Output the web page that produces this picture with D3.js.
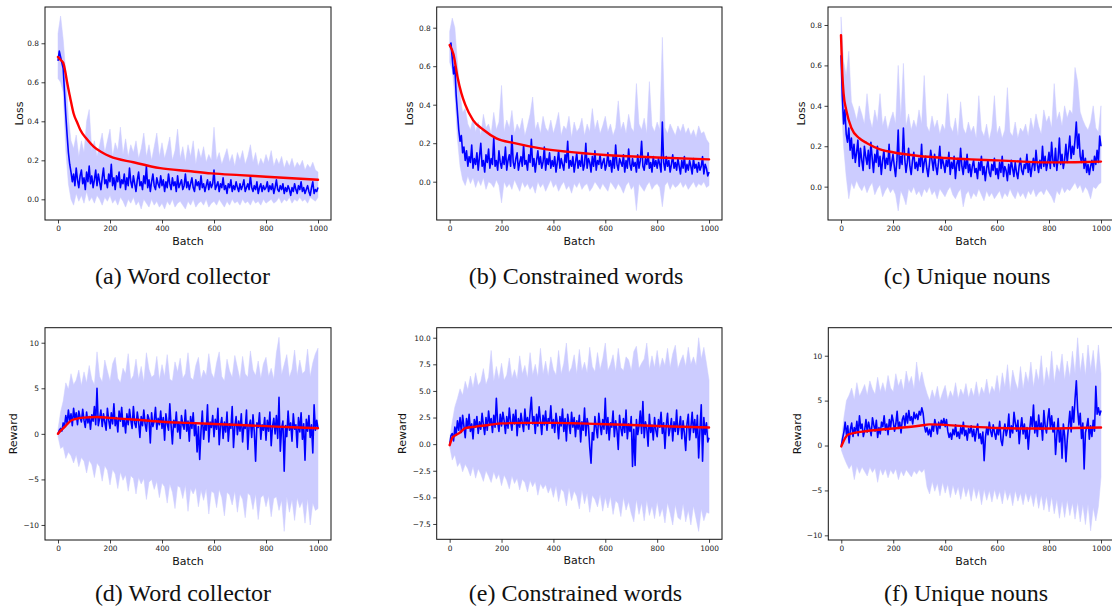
<!DOCTYPE html>
<html><head><meta charset="utf-8">
<script src="https://cdn.jsdelivr.net/npm/d3@7"></script>
<style>body{margin:0;background:#fff}svg{display:block}</style>
</head><body>
<svg id="chart" width="1112" height="612"></svg>
<script>
// ---------- tick labels / categories ----------
const batchTicks = [0, 200, 400, 600, 800, 1000];
const lossTicks = [0, 0.2, 0.4, 0.6, 0.8];
const rewardTicksInt = [-10, -5, 0, 5, 10];
const rewardTicksHalf = [-7.5, -5, -2.5, 0, 2.5, 5, 7.5, 10];
const captions = ["(a) Word collector", "(b) Constrained words", "(c) Unique nouns",
                  "(d) Word collector", "(e) Constrained words", "(f) Unique nouns"];
const yLabels = ["Loss", "Loss", "Loss", "Reward", "Reward", "Reward"];

// ---------- (a) loss, word collector ----------
const lossBlueA = [
0.71,0.76,0.73,0.70,0.67,0.55,0.43,0.33,0.24,0.18,0.14,0.09,0.13,0.07,0.16,0.10,0.06,0.12,0.15,0.08,
0.11,0.05,0.14,0.09,0.17,0.08,0.12,0.06,0.10,0.15,0.07,0.13,0.09,0.05,0.11,0.16,0.08,0.10,0.06,0.13,
0.09,0.18,0.07,0.11,0.05,0.12,0.09,0.14,0.06,0.10,0.08,0.13,0.05,0.11,0.07,0.16,0.09,0.06,0.12,0.08,
0.04,0.10,0.14,0.07,0.09,0.05,0.12,0.08,0.17,0.06,0.10,0.04,0.09,0.13,0.07,0.05,0.11,0.08,0.06,0.12,
0.07,0.10,0.04,0.09,0.06,0.13,0.08,0.05,0.11,0.07,0.09,0.04,0.12,0.06,0.08,0.10,0.05,0.07,0.13,0.06,
0.09,0.05,0.08,0.11,0.06,0.04,0.10,0.07,0.09,0.05,0.12,0.06,0.08,0.04,0.07,0.10,0.05,0.09,0.06,0.08,
0.15,0.05,0.07,0.09,0.04,0.08,0.06,0.11,0.05,0.07,0.03,0.08,0.06,0.10,0.04,0.07,0.05,0.09,0.06,0.04,
0.08,0.05,0.07,0.10,0.04,0.06,0.08,0.05,0.12,0.06,0.04,0.07,0.05,0.09,0.03,0.06,0.08,0.04,0.07,0.05,
0.06,0.09,0.04,0.07,0.05,0.08,0.03,0.06,0.10,0.05,0.04,0.07,0.05,0.08,0.03,0.06,0.04,0.07,0.05,0.02,
0.06,0.04,0.08,0.05,0.03,0.07,0.05,0.09,0.04,0.06,0.03,0.05,0.07,0.04,0.02,0.06,0.09,0.03,0.05,0.04,
0.06];
const lossUpperA = [
0.85,0.94,0.82,0.65,0.42,0.30,0.26,0.33,0.22,0.30,
0.24,0.40,0.46,0.25,0.30,0.22,0.28,0.34,0.24,0.30,
0.36,0.22,0.29,0.25,0.37,0.23,0.31,0.22,0.28,0.24,
0.30,0.21,0.26,0.34,0.22,0.28,0.20,0.27,0.34,0.22,
0.29,0.21,0.26,0.32,0.20,0.25,0.36,0.21,0.27,0.19,
0.28,0.22,0.30,0.18,0.26,0.21,0.27,0.19,0.23,0.20,
0.37,0.20,0.24,0.18,0.22,0.26,0.19,0.23,0.17,0.24,
0.20,0.25,0.18,0.22,0.28,0.19,0.24,0.17,0.21,0.18,
0.23,0.19,0.25,0.17,0.21,0.18,0.22,0.16,0.20,0.17,
0.21,0.16,0.19,0.17,0.20,0.15,0.18,0.16,0.19,0.15,
0.14];
const lossLowerA = [
0.62,0.60,0.55,0.25,0.08,0.00,-0.03,0.03,-0.01,0.02,
-0.02,0.04,-0.01,0.01,-0.02,0.02,0.00,-0.03,0.01,-0.01,
0.02,-0.02,0.00,-0.03,0.01,-0.01,-0.04,0.00,-0.02,0.01,
-0.03,-0.01,-0.05,0.00,-0.02,-0.04,0.00,-0.03,-0.01,-0.04,
-0.02,-0.05,-0.01,-0.03,0.00,-0.04,-0.02,-0.01,-0.03,-0.05,
-0.01,-0.03,0.00,-0.04,-0.02,-0.01,-0.03,0.00,-0.04,-0.02,
-0.01,-0.03,0.00,-0.02,-0.04,-0.01,-0.03,0.00,-0.02,-0.01,
-0.03,0.00,-0.02,-0.01,-0.03,0.00,-0.02,-0.01,-0.03,0.00,
-0.02,-0.01,0.00,-0.02,-0.01,0.01,-0.02,0.00,-0.01,0.01,
-0.02,0.00,-0.01,0.01,-0.01,0.00,-0.02,0.01,0.00,-0.01,
0.01];
const lossRedXA = [0,10,20,30,35,47,60,75,86,110,137,170,200,290,393,500,590,700,800,900,1000];
const lossRedYA = [0.73,0.715,0.70,0.64,0.60,0.52,0.44,0.39,0.355,0.31,0.27,0.24,0.22,0.19,0.16,0.145,0.133,0.124,0.116,0.108,0.10];

// ---------- (b) loss, constrained words ----------
const lossBlueB = [
0.70,0.72,0.64,0.56,0.60,0.45,0.36,0.27,0.21,0.24,0.15,0.18,0.11,0.16,0.08,0.13,0.10,0.19,0.07,0.12,
0.09,0.15,0.06,0.13,0.20,0.08,0.11,0.05,0.14,0.10,0.17,0.07,0.12,0.09,0.23,0.08,0.11,0.06,0.16,0.10,
0.07,0.13,0.09,0.18,0.06,0.11,0.14,0.08,0.24,0.10,0.07,0.12,0.15,0.06,0.10,0.13,0.08,0.19,0.09,0.11,
0.06,0.14,0.10,0.22,0.08,0.12,0.05,0.11,0.16,0.09,0.13,0.07,0.10,0.18,0.06,0.12,0.09,0.15,0.07,0.11,
0.08,0.13,0.05,0.10,0.16,0.07,0.12,0.09,0.06,0.14,0.10,0.21,0.07,0.11,0.08,0.13,0.05,0.10,0.15,0.07,
0.11,0.08,0.14,0.06,0.09,0.20,0.07,0.12,0.10,0.05,0.13,0.08,0.16,0.06,0.11,0.09,0.14,0.07,0.10,0.12,
0.06,0.09,0.15,0.08,0.11,0.05,0.13,0.07,0.19,0.09,0.06,0.12,0.10,0.08,0.14,0.05,0.11,0.07,0.17,0.09,
0.06,0.12,0.08,0.10,0.05,0.14,0.07,0.11,0.21,0.08,0.06,0.12,0.09,0.15,0.07,0.10,0.05,0.13,0.08,0.11,
0.07,0.12,0.09,0.05,0.31,0.10,0.06,0.13,0.08,0.11,0.05,0.09,0.14,0.07,0.10,0.06,0.12,0.08,0.04,0.11,
0.07,0.13,0.05,0.09,0.06,0.11,0.08,0.04,0.12,0.07,0.09,0.05,0.10,0.06,0.08,0.13,0.04,0.09,0.07,0.03,
0.05];
const lossUpperB = [
0.78,0.85,0.80,0.62,0.46,0.36,0.38,0.30,0.27,0.33,
0.26,0.31,0.24,0.35,0.28,0.30,0.25,0.36,0.27,0.31,
0.50,0.26,0.32,0.28,0.37,0.25,0.30,0.27,0.33,0.24,
0.29,0.35,0.44,0.27,0.31,0.25,0.34,0.28,0.26,0.32,
0.25,0.30,0.36,0.24,0.29,0.27,0.34,0.23,0.31,0.26,
0.28,0.33,0.24,0.30,0.26,0.38,0.27,0.32,0.25,0.29,
0.34,0.26,0.30,0.24,0.28,0.42,0.27,0.31,0.25,0.35,
0.28,0.26,0.51,0.30,0.27,0.33,0.25,0.52,0.29,0.26,
0.31,0.27,0.75,0.28,0.25,0.30,0.27,0.24,0.29,0.26,
0.30,0.25,0.28,0.24,0.27,0.23,0.29,0.25,0.26,0.22,
0.20];
const lossLowerB = [
0.62,0.58,0.45,0.22,0.08,0.01,-0.02,0.03,-0.01,0.02,
-0.03,0.01,-0.02,0.02,-0.04,0.00,-0.01,-0.03,0.01,-0.02,
-0.11,0.00,-0.03,-0.01,-0.04,0.01,-0.02,-0.05,0.00,-0.03,
-0.01,-0.04,-0.02,-0.06,0.00,-0.03,-0.01,-0.05,-0.02,0.01,
-0.03,-0.01,-0.05,-0.02,0.00,-0.04,-0.02,-0.06,-0.01,-0.03,
0.00,-0.04,-0.02,-0.01,-0.05,-0.03,0.00,-0.02,-0.04,-0.01,
-0.03,-0.05,0.00,-0.02,-0.04,-0.01,-0.03,-0.06,-0.02,0.00,
-0.04,-0.02,-0.15,-0.01,-0.03,-0.05,-0.02,0.00,-0.04,-0.02,
-0.01,-0.03,-0.13,-0.02,0.00,-0.04,-0.01,-0.03,-0.02,0.00,
-0.03,-0.01,-0.04,-0.02,0.00,-0.03,-0.01,-0.02,0.00,-0.03,
-0.02];
const lossRedXB = [0,15,30,45,60,90,130,180,250,350,450,600,800,1000];
const lossRedYB = [0.71,0.66,0.545,0.46,0.40,0.32,0.27,0.225,0.20,0.173,0.156,0.139,0.126,0.116];

// ---------- (c) loss, unique nouns ----------
const lossBlueC = [
0.65,0.45,0.31,0.38,0.26,0.22,0.29,0.18,0.24,0.14,0.21,0.12,0.17,0.23,0.10,0.19,0.13,0.08,0.20,0.15,
0.11,0.18,0.09,0.22,0.14,0.07,0.16,0.12,0.20,0.10,0.15,0.06,0.13,0.18,0.09,0.14,0.11,0.21,0.08,0.12,
0.16,0.10,0.05,0.13,0.28,0.09,0.15,0.11,0.29,0.14,0.07,0.12,0.19,0.10,0.06,0.13,0.17,0.09,0.12,0.08,
0.14,0.10,0.21,0.07,0.12,0.15,0.09,0.05,0.11,0.18,0.13,0.08,0.16,0.10,0.06,0.12,0.20,0.09,0.14,0.11,
0.07,0.13,0.10,0.17,0.06,0.12,0.09,0.15,0.04,0.11,0.14,0.08,0.19,0.10,0.06,0.13,0.09,0.16,0.07,0.11,
0.05,0.10,0.13,0.07,0.09,0.04,0.12,0.08,0.15,0.06,0.10,0.03,0.09,0.13,0.07,0.05,0.11,0.08,0.14,0.06,
0.09,0.04,0.12,0.07,0.15,0.05,0.10,0.08,0.03,0.11,0.06,0.13,0.09,0.05,0.12,0.07,0.04,0.10,0.14,0.08,
0.06,0.11,0.09,0.16,0.07,0.12,0.05,0.10,0.14,0.08,0.18,0.11,0.07,0.13,0.09,0.20,0.10,0.15,0.08,0.12,
0.17,0.09,0.22,0.13,0.10,0.19,0.08,0.14,0.24,0.11,0.16,0.09,0.13,0.21,0.12,0.18,0.25,0.14,0.20,0.16,
0.23,0.32,0.19,0.26,0.15,0.12,0.18,0.09,0.14,0.07,0.11,0.06,0.10,0.13,0.08,0.15,0.11,0.18,0.12,0.25,
0.20];
const lossUpperC = [
0.84,0.62,0.55,0.67,0.42,0.38,0.33,0.40,0.36,0.31,
0.46,0.34,0.29,0.38,0.32,0.46,0.30,0.35,0.28,0.33,
0.37,0.31,0.60,0.34,0.61,0.30,0.36,0.28,0.33,0.29,
0.38,0.31,0.55,0.30,0.27,0.35,0.29,0.33,0.26,0.31,
0.28,0.46,0.30,0.27,0.34,0.25,0.42,0.29,0.26,0.32,
0.27,0.30,0.24,0.45,0.28,0.25,0.31,0.23,0.29,0.45,
0.26,0.30,0.24,0.28,0.49,0.27,0.25,0.32,0.24,0.29,
0.27,0.31,0.25,0.34,0.28,0.36,0.30,0.26,0.38,0.32,
0.35,0.29,0.51,0.33,0.37,0.30,0.40,0.34,0.38,0.36,
0.59,0.52,0.37,0.33,0.30,0.28,0.32,0.40,0.29,0.27,
0.40];
const lossLowerC = [
0.45,0.20,0.05,-0.06,0.02,-0.01,0.03,0.00,-0.02,0.01,
-0.03,0.00,0.02,-0.04,-0.01,0.01,-0.05,-0.02,0.00,-0.03,
-0.01,-0.04,-0.12,-0.02,-0.05,-0.09,-0.01,-0.03,0.00,-0.04,
-0.02,-0.05,-0.01,-0.03,0.00,-0.04,-0.02,-0.06,-0.01,-0.03,
-0.05,-0.02,0.00,-0.04,-0.06,-0.03,-0.01,-0.10,-0.04,-0.02,
-0.06,-0.03,-0.05,-0.01,-0.04,-0.07,-0.02,-0.05,-0.03,-0.06,
-0.04,-0.02,-0.06,-0.03,-0.05,-0.01,-0.04,-0.06,-0.02,-0.05,
-0.03,-0.06,-0.02,-0.04,-0.01,-0.05,-0.03,-0.02,-0.04,-0.01,
-0.03,-0.05,-0.08,-0.02,-0.04,0.00,-0.03,-0.01,-0.02,0.00,
0.02,-0.01,0.01,-0.03,0.00,-0.02,-0.06,0.00,-0.01,0.01,
0.02];
const lossRedXC = [0,5,10,20,40,70,100,150,200,300,400,500,600,700,800,900,1000];
const lossRedYC = [0.75,0.56,0.46,0.38,0.29,0.24,0.215,0.185,0.17,0.152,0.142,0.135,0.13,0.124,0.12,0.121,0.124];

// ---------- (d) reward, word collector ----------
const rewardBlueD = [
0.0,0.4,0.6,0.3,1.2,0.8,2.0,1.1,2.6,1.4,2.2,0.9,2.8,1.6,2.3,1.0,2.5,1.8,1.3,2.7,
1.5,0.7,2.4,1.2,1.9,0.5,2.1,1.4,3.0,1.0,5.0,0.9,1.7,2.6,0.8,2.2,1.3,0.4,2.8,1.5,
0.6,2.3,1.1,3.3,0.9,1.8,0.2,2.5,1.4,2.9,0.8,1.6,0.1,2.2,1.0,2.7,1.5,0.6,3.0,1.2,
0.7,2.4,1.3,-0.4,1.9,0.9,2.6,1.1,0.3,2.1,1.6,-1.0,2.3,0.8,1.4,2.9,0.5,1.7,1.0,2.5,
0.6,1.8,-0.7,2.2,1.1,0.4,3.3,0.9,-1.1,1.5,0.7,2.4,0.2,1.3,-0.5,2.0,1.0,0.5,2.6,0.3,
1.4,-0.8,1.9,0.6,2.3,-0.2,1.2,-2.0,0.8,-2.8,0.3,2.5,-0.6,1.0,0.4,3.2,-0.9,1.3,0.7,2.0,
-0.3,1.6,0.5,2.8,-1.2,0.9,1.8,-0.5,1.3,0.2,2.4,-0.8,1.1,0.6,3.0,-1.5,0.8,1.9,-0.1,1.4,
0.3,2.2,-0.9,1.0,0.6,2.6,-1.7,0.9,1.5,-0.4,2.1,0.2,-3.0,1.2,0.7,2.3,-0.6,1.0,0.4,1.8,
-0.7,1.5,0.3,2.4,-1.3,0.8,1.7,0.0,2.0,-0.5,4.0,-1.9,0.6,1.4,-4.1,0.9,-0.3,2.5,0.4,1.2,
-0.8,2.2,0.5,1.0,-1.5,1.8,0.2,2.3,-0.6,1.1,-2.9,1.6,0.3,2.0,-0.4,1.0,-2.1,3.2,0.4,1.5,
0.6];
const rewardUpperD = [
0.5,2.4,3.6,5.6,4.9,6.6,5.4,5.9,7.0,5.3,
6.8,5.6,7.5,6.0,5.4,9.0,6.3,5.7,8.1,6.9,
5.8,7.7,8.4,6.1,5.6,7.2,6.6,8.8,5.9,6.4,
8.2,6.0,7.4,5.7,8.9,7.1,6.2,6.5,8.5,5.9,
7.6,6.3,8.7,6.0,5.8,7.9,6.8,8.3,6.1,6.6,
8.9,6.2,5.9,7.5,8.4,6.0,7.0,6.4,8.8,6.7,
6.1,7.8,9.0,6.3,5.8,8.2,6.9,6.2,8.6,7.3,
6.0,8.5,6.6,6.2,9.1,7.0,6.4,8.0,6.1,7.7,
8.4,6.3,7.2,6.0,8.9,10.6,6.5,7.6,8.7,6.2,
7.1,9.2,6.4,8.1,6.6,6.9,9.3,6.3,7.8,8.8,
9.4];
const rewardLowerD = [
-0.3,-1.6,-1.4,-2.7,-2.0,-2.4,-3.2,-2.3,-3.6,-2.6,
-3.0,-4.3,-2.9,-3.4,-4.8,-3.2,-3.6,-5.2,-3.5,-4.0,
-5.6,-3.9,-4.4,-6.0,-4.2,-5.1,-4.5,-6.3,-4.6,-4.9,
-6.6,-4.8,-5.5,-4.9,-7.2,-5.3,-5.0,-6.1,-5.2,-7.0,
-5.4,-5.8,-7.6,-5.5,-6.4,-8.2,-5.7,-5.9,-7.1,-5.6,
-8.5,-6.0,-6.6,-5.9,-8.0,-6.2,-7.3,-6.0,-8.8,-6.3,
-6.5,-8.1,-6.1,-7.0,-9.0,-6.4,-6.7,-7.8,-6.3,-8.6,
-6.6,-7.2,-9.2,-6.5,-6.8,-8.3,-6.6,-9.4,-7.0,-6.7,
-8.0,-6.8,-9.1,-7.1,-6.9,-8.4,-7.3,-10.7,-6.9,-8.6,
-7.2,-9.5,-7.0,-8.1,-7.4,-9.8,-7.1,-10.0,-7.6,-8.4,
-8.2];
const rewardRedXD = [0,10,20,30,40,50,70,100,150,200,300,400,500,600,700,800,900,1000];
const rewardRedYD = [0,0.35,0.6,0.9,1.2,1.45,1.65,1.78,1.85,1.75,1.55,1.33,1.2,1.08,0.97,0.85,0.72,0.62];

// ---------- (e) reward, constrained words ----------
const rewardBlueE = [
-0.1,0.8,1.0,0.3,1.6,0.9,2.2,1.3,2.5,1.1,2.7,1.7,0.6,2.4,1.5,2.8,1.2,1.9,0.5,2.3,
1.6,2.6,1.0,2.1,1.4,2.9,1.8,0.9,2.5,1.3,3.1,1.9,2.4,1.1,2.7,1.6,4.3,2.0,1.2,2.8,
1.7,3.0,2.2,1.0,2.6,1.5,3.4,2.1,1.3,2.8,1.9,3.2,0.8,2.4,1.6,2.9,2.0,1.2,3.3,1.8,
2.5,1.4,3.0,4.4,1.9,2.6,1.0,2.8,1.7,3.5,2.2,0.9,2.7,1.8,3.1,1.3,2.4,2.0,3.6,1.5,
2.3,1.1,2.9,2.0,0.5,2.6,1.7,3.3,1.2,2.4,0.3,2.8,1.9,1.0,3.0,1.6,2.5,0.7,2.2,1.4,
2.7,0.2,2.1,1.3,3.4,0.8,2.4,1.7,-0.3,-1.8,1.1,0.4,2.6,1.5,0.6,2.9,1.8,0.9,2.3,1.4,
4.3,1.0,2.5,0.4,2.0,1.6,3.1,0.7,2.2,1.3,-0.5,2.7,1.5,0.8,2.4,1.1,3.2,0.5,1.9,1.2,
2.6,-2.1,1.4,-2.0,2.3,0.9,1.7,3.1,1.0,4.0,0.6,2.1,1.5,-0.2,2.8,1.1,1.8,0.4,2.5,1.3,
0.7,2.3,1.6,3.0,1.0,2.0,-0.4,1.8,2.9,0.8,1.5,2.4,0.3,2.1,1.2,3.2,0.9,1.7,2.6,0.5,
2.2,1.0,-0.6,1.9,2.8,0.4,1.6,3.0,1.1,2.3,0.6,2.7,-1.3,1.4,3.7,-1.6,2.5,0.9,2.0,0.2,
0.6];
const rewardUpperE = [
0.5,2.1,3.5,4.3,5.2,4.6,5.9,5.1,6.4,5.3,
6.7,5.5,5.9,7.1,5.6,6.3,8.8,5.9,7.3,6.1,
7.6,6.0,6.5,8.1,6.2,7.0,6.1,8.3,6.6,7.4,
6.2,8.6,6.5,7.5,6.3,9.0,6.6,7.8,6.4,8.2,
7.0,6.5,8.8,6.6,7.6,9.5,6.7,7.2,8.4,6.6,
8.9,6.9,7.7,6.7,9.1,7.3,6.8,8.6,7.0,8.0,
9.5,6.9,7.5,8.4,6.8,9.0,7.2,6.9,8.2,7.9,
6.9,8.7,9.2,7.1,7.6,8.0,9.5,7.0,8.3,7.2,
8.8,7.1,8.1,7.4,9.0,7.2,8.5,9.3,7.1,7.8,
8.4,7.3,9.1,7.5,8.2,7.4,10.0,8.0,9.1,7.6,
6.0];
const rewardLowerE = [
-0.2,-1.5,-1.0,-2.1,-1.7,-2.6,-1.9,-2.3,-3.0,-2.1,
-3.2,-2.3,-2.8,-3.5,-2.5,-3.0,-3.6,-2.6,-3.3,-2.8,
-3.9,-2.9,-3.4,-4.2,-3.0,-3.7,-3.2,-4.3,-3.3,-3.6,
-4.5,-3.4,-4.0,-3.5,-4.8,-3.7,-4.2,-3.8,-4.6,-4.0,
-5.0,-3.9,-5.4,-4.2,-4.5,-5.8,-4.1,-5.3,-4.4,-4.9,
-6.1,-4.3,-5.6,-4.6,-6.4,-4.8,-5.2,-5.9,-4.7,-6.3,
-5.0,-6.0,-4.9,-6.6,-5.3,-5.6,-6.8,-5.0,-6.2,-5.4,
-6.5,-7.3,-5.2,-6.6,-5.5,-7.2,-5.3,-6.7,-5.8,-7.0,
-5.4,-6.8,-6.0,-7.4,-5.5,-6.5,-7.6,-5.7,-6.9,-7.1,
-5.6,-7.3,-6.2,-7.6,-5.8,-7.0,-8.2,-6.1,-7.2,-6.4,
-6.5];
const rewardRedXE = [0,10,20,40,60,100,150,200,300,400,500,600,700,800,900,1000];
const rewardRedYE = [-0.1,0.6,0.8,1.1,1.5,1.65,1.8,1.95,2.0,2.0,1.95,1.87,1.8,1.7,1.63,1.57];

// ---------- (f) reward, unique nouns ----------
const rewardBlueF = [
0.0,0.8,1.5,2.6,1.2,2.2,0.3,1.8,2.5,1.0,2.0,1.4,2.7,1.1,3.3,1.9,2.4,1.0,1.7,2.9,
1.5,2.6,1.9,1.1,3.1,2.3,1.6,2.8,0.9,2.0,1.3,2.6,2.1,3.3,1.7,2.4,1.2,2.9,2.0,3.4,
2.7,1.6,2.4,3.8,1.9,2.6,1.4,2.9,3.3,2.2,3.6,2.5,3.9,2.8,3.2,2.4,3.7,3.0,3.5,2.9,
3.8,3.4,4.2,3.6,2.2,1.5,2.0,1.2,1.8,1.0,2.3,1.6,2.9,2.2,1.3,2.6,1.9,2.8,2.4,3.0,
2.1,2.9,1.6,0.9,1.4,0.7,1.8,1.2,2.3,1.0,1.5,0.8,2.0,1.3,2.6,1.1,1.7,0.6,1.9,1.4,
2.2,1.0,1.8,0.5,1.6,2.4,0.8,1.3,0.2,1.5,-1.7,0.9,2.0,1.2,2.6,1.6,1.0,2.3,1.4,0.7,
1.9,1.2,2.7,0.6,0.0,1.5,2.4,1.1,1.8,3.5,0.9,2.2,1.4,3.7,2.5,1.6,2.8,0.2,1.9,3.1,
1.3,2.4,0.8,2.0,-0.4,1.6,3.2,2.1,4.5,1.4,2.7,1.0,3.4,1.8,2.5,0.6,3.9,2.2,1.4,2.9,
4.1,2.0,3.3,1.5,2.6,-1.0,1.2,3.0,0.4,1.8,-1.4,2.4,1.1,-1.8,0.6,2.2,3.8,1.5,4.3,2.6,
5.2,7.2,4.0,2.3,3.6,0.8,2.5,-2.6,1.4,2.1,3.0,0.7,2.2,1.0,2.8,1.6,6.6,3.5,4.2,3.4,
3.9];
const rewardUpperF = [
0.5,3.1,5.0,5.6,6.4,5.1,7.0,5.5,6.1,6.8,
5.6,7.2,6.3,5.7,7.6,6.0,7.0,5.9,7.8,6.4,
6.0,8.0,6.6,7.4,6.1,8.3,6.9,7.7,6.3,9.3,
7.0,8.2,6.8,5.8,5.0,6.2,5.3,6.6,5.0,5.9,
6.7,5.1,6.1,5.4,7.0,5.2,6.3,5.6,6.9,5.3,
6.4,5.5,7.1,5.4,6.5,5.8,7.4,5.6,6.6,6.0,
7.8,5.8,8.1,6.5,9.0,6.0,8.4,7.1,6.2,8.8,
6.3,8.2,7.0,9.3,6.5,8.5,7.2,10.0,6.6,8.7,
7.2,10.5,7.0,9.0,8.1,10.2,7.3,9.4,7.6,10.5,
8.0,12.0,8.2,10.3,7.8,11.2,8.5,10.6,7.9,11.2,
8.0];
const rewardLowerF = [
-0.5,-1.3,-2.0,-2.6,-2.1,-3.8,-2.3,-3.1,-2.4,-2.9,
-3.4,-2.4,-3.0,-2.5,-4.1,-2.6,-3.3,-2.6,-3.6,-2.7,
-3.2,-2.6,-3.8,-2.8,-3.4,-2.7,-3.1,-3.5,-2.8,-3.2,
-2.7,-3.0,-2.6,-4.6,-5.4,-4.0,-5.1,-4.2,-5.6,-4.1,
-5.3,-4.3,-5.8,-4.4,-5.5,-4.6,-6.0,-4.5,-5.7,-4.7,
-6.2,-4.6,-5.9,-4.8,-6.6,-4.9,-6.1,-5.0,-6.3,-4.9,
-6.0,-5.1,-6.5,-4.9,-6.1,-5.2,-6.7,-5.0,-6.2,-5.3,
-6.6,-5.2,-6.3,-5.4,-6.8,-5.3,-7.0,-5.5,-7.2,-5.6,
-7.4,-5.7,-7.6,-6.0,-8.1,-6.2,-8.0,-6.1,-7.8,-6.4,
-8.2,-6.3,-8.5,-6.6,-8.8,-6.5,-9.5,-6.9,-8.4,-6.8,
-3.5];
const rewardRedXF = [0,25,50,100,200,300,340,400,500,600,700,800,900,1000];
const rewardRedYF = [-0.1,1.2,1.4,1.62,1.9,2.2,2.35,2.3,2.1,1.95,1.9,1.9,1.95,2.0];

// ---------- drawing ----------
const fineBatches = d3.range(0, 1001, 5);
const coarseBatches = d3.range(0, 1001, 10);

const fmt1 = d3.format(".1f"), fmtInt = d3.format("d");
const panels = [
  {blue: lossBlueA, up: lossUpperA, lo: lossLowerA, rx: lossRedXA, ry: lossRedYA,
   yDom: [-0.106, 0.986], yTicks: lossTicks, yFmt: fmt1,
   box: {l: 45, r: 331, t: 7, b: 220}, labOff: 22.5, cap: {x: 182.5, y: 283.5}},
  {blue: lossBlueB, up: lossUpperB, lo: lossLowerB, rx: lossRedXB, ry: lossRedYB,
   yDom: [-0.199, 0.9075], yTicks: lossTicks, yFmt: fmt1,
   box: {l: 436.7, r: 722, t: 7, b: 220}, labOff: 23.4, cap: {x: 576, y: 283.5}},
  {blue: lossBlueC, up: lossUpperC, lo: lossLowerC, rx: lossRedXC, ry: lossRedYC,
   yDom: [-0.165, 0.889], yTicks: lossTicks, yFmt: fmt1,
   box: {l: 828, r: 1114, t: 7, b: 220}, labOff: 23, cap: {x: 967, y: 283.5}},
  {blue: rewardBlueD, up: rewardUpperD, lo: rewardLowerD, rx: rewardRedXD, ry: rewardRedYD,
   yDom: [-11.65, 11.65], yTicks: rewardTicksInt, yFmt: fmtInt,
   box: {l: 45, r: 331, t: 327.7, b: 540}, labOff: 27.7, cap: {x: 183, y: 601}},
  {blue: rewardBlueE, up: rewardUpperE, lo: rewardLowerE, rx: rewardRedXE, ry: rewardRedYE,
   yDom: [-8.94, 10.94], yTicks: rewardTicksHalf, yFmt: fmt1,
   box: {l: 436.7, r: 722, t: 327.7, b: 539.3}, labOff: 30.7, cap: {x: 575.5, y: 601}},
  {blue: rewardBlueF, up: rewardUpperF, lo: rewardLowerF, rx: rewardRedXF, ry: rewardRedYF,
   yDom: [-10.52, 13.12], yTicks: rewardTicksInt, yFmt: fmtInt,
   box: {l: 828.3, r: 1114, t: 327.7, b: 540}, labOff: 27.6, cap: {x: 966, y: 601}}
];

const svg = d3.select("#chart");
svg.append("rect").attr("width", 1112).attr("height", 612).attr("fill", "#fff");
const FONT = "DejaVu Sans, sans-serif";

panels.forEach((p, i) => {
  if (p.blue.length !== fineBatches.length || p.up.length !== coarseBatches.length || p.lo.length !== coarseBatches.length)
    console.error("length mismatch in panel " + i, p.blue.length, p.up.length, p.lo.length);
  const x = d3.scaleLinear().domain([-50, 1050]).range([p.box.l, p.box.r]);
  const y = d3.scaleLinear().domain(p.yDom).range([p.box.b, p.box.t]);
  const g = svg.append("g");

  const band = coarseBatches.map((b, k) => ({b, lo: p.lo[k], hi: p.up[k]}));
  g.append("path").datum(band)
    .attr("d", d3.area().x(d => x(d.b)).y0(d => y(d.lo)).y1(d => y(d.hi)))
    .attr("fill", "#ccccff").attr("stroke", "#ccccff").attr("stroke-width", 0.5);

  const blue = fineBatches.map((b, k) => [b, p.blue[k]]);
  g.append("path").datum(blue)
    .attr("d", d3.line().x(d => x(d[0])).y(d => y(d[1])))
    .attr("fill", "none").attr("stroke", "#0000ff").attr("stroke-width", 1.6)
    .attr("stroke-linejoin", "round");

  const red = p.rx.map((b, k) => [b, p.ry[k]]);
  g.append("path").datum(red)
    .attr("d", d3.line().curve(d3.curveMonotoneX).x(d => x(d[0])).y(d => y(d[1])))
    .attr("fill", "none").attr("stroke", "#ff0000").attr("stroke-width", 2.4)
    .attr("stroke-linecap", "round").attr("stroke-linejoin", "round");

  // axes
  const xa = g.append("g").attr("transform", `translate(0,${p.box.b})`)
    .call(d3.axisBottom(x).tickValues(batchTicks).tickFormat(fmtInt).tickSize(3.5).tickPadding(2.5));
  const ya = g.append("g").attr("transform", `translate(${p.box.l},0)`)
    .call(d3.axisLeft(y).tickValues(p.yTicks).tickFormat(p.yFmt).tickSize(3.5).tickPadding(2.5));
  [xa, ya].forEach(a => {
    a.select(".domain").remove();
    a.attr("font-family", FONT).attr("font-size", 7.4);
    a.selectAll("text").attr("fill", "#222");
    a.selectAll("line").attr("stroke", "#111").attr("stroke-width", 0.8);
  });

  // spines
  g.append("rect").attr("x", p.box.l).attr("y", p.box.t)
    .attr("width", p.box.r - p.box.l).attr("height", p.box.b - p.box.t)
    .attr("fill", "none").attr("stroke", "#111").attr("stroke-width", 1);

  // axis labels
  g.append("text").attr("x", x(500)).attr("y", p.box.b + 24.5)
    .attr("text-anchor", "middle").attr("font-family", FONT).attr("font-size", 11)
    .attr("fill", "#111").text("Batch");
  const cy = (p.box.t + p.box.b) / 2;
  g.append("text").attr("transform", `translate(${p.box.l - p.labOff},${cy}) rotate(-90)`)
    .attr("text-anchor", "middle").attr("font-family", FONT).attr("font-size", 11)
    .attr("fill", "#111").text(yLabels[i]);

  // caption
  svg.append("text").attr("x", p.cap.x).attr("y", p.cap.y)
    .attr("text-anchor", "middle").attr("font-family", "Liberation Serif, serif")
    .attr("font-size", 24).attr("fill", "#111")
    .text(captions[i]);
});
</script>
</body></html>
